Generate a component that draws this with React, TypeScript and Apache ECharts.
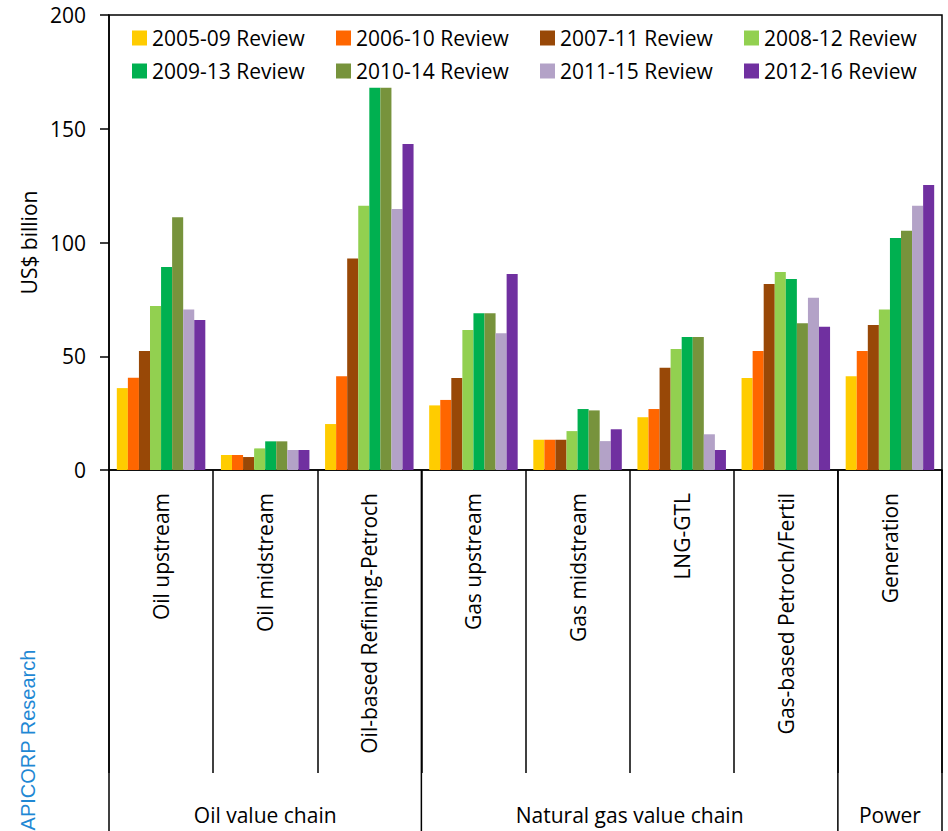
import React, { useEffect, useRef } from "react";
import * as echarts from "echarts";

const categories = [
  "Oil upstream",
  "Oil midstream",
  "Oil-based Refining-Petroch",
  "Gas upstream",
  "Gas midstream",
  "LNG-GTL",
  "Gas-based Petroch/Fertil",
  "Generation",
];

const seriesNames = [
  "2005-09 Review",
  "2006-10 Review",
  "2007-11 Review",
  "2008-12 Review",
  "2009-13 Review",
  "2010-14 Review",
  "2011-15 Review",
  "2012-16 Review",
];

const colors = ["#FFCC00", "#FF6600", "#984807", "#92D050", "#00B050", "#77933C", "#B3A2C7", "#7030A0"];

const review0509 = [36, 6.6, 20.2, 28.4, 13.3, 23.2, 40.4, 41.2];
const review0610 = [40.5, 6.6, 41.2, 30.8, 13.3, 26.8, 52.3, 52.3];
const review0711 = [52.3, 5.7, 93, 40.4, 13.3, 45, 81.8, 63.7];
const review0812 = [72.1, 9.5, 116.2, 61.5, 17.1, 53.2, 87, 70.5];
const review0913 = [89.2, 12.6, 168, 68.9, 26.8, 58.5, 84, 102];
const review1014 = [111.1, 12.6, 168, 68.9, 26.2, 58.5, 64.5, 105.2];
const review1115 = [70.5, 8.8, 114.7, 60.1, 12.7, 15.7, 75.7, 116.2];
const review1216 = [65.9, 8.8, 143.3, 86.2, 17.9, 8.8, 63, 125.3];

const seriesValues = [review0509, review0610, review0711, review0812, review0913, review1014, review1115, review1216];

const groups = [
  { name: "Oil value chain", start: 0, end: 3 },
  { name: "Natural gas value chain", start: 3, end: 7 },
  { name: "Power", start: 7, end: 8 },
];

const yTicks = { min: 0, max: 200, interval: 50 };

const FONT = "'Open Sans', sans-serif";

export default function App() {
  const ref = useRef<HTMLDivElement>(null);

  useEffect(() => {
    document.body.style.margin = "0";
    if (!ref.current) return;
    const chart = echarts.init(ref.current, null, { renderer: "svg" });
    const option: any = {
      animation: false,
      backgroundColor: "#ffffff",
      textStyle: { fontFamily: FONT },
      grid: {
        left: 109,
        top: 15,
        right: 6,
        bottom: 361,
        show: true,
        borderColor: "#000",
        borderWidth: 1.5,
        containLabel: false,
        outerBoundsMode: "none",
      },
      legend: {
        left: 132,
        top: 26,
        padding: 0,
        itemWidth: 15,
        itemHeight: 15,
        itemGap: 9,
        icon: "rect",
        data: seriesNames,
        textStyle: { fontFamily: FONT, fontSize: 21, color: "#000", width: 175, lineHeight: 24 },
      },
      xAxis: {
        type: "category",
        data: categories,
        axisLine: { lineStyle: { color: "#000", width: 1.5 } },
        axisTick: { show: true, length: 303, lineStyle: { color: "#000", width: 1.5 } },
        axisLabel: {
          rotate: 90,
          margin: 23,
          interval: 0,
          fontFamily: FONT,
          fontSize: 21,
          color: "#000",
        },
      },
      yAxis: {
        type: "value",
        min: yTicks.min,
        max: yTicks.max,
        interval: yTicks.interval,
        name: "US$ billion",
        nameLocation: "middle",
        nameGap: 70,
        nameTextStyle: { fontFamily: FONT, fontSize: 21, color: "#000" },
        axisLine: { show: true, lineStyle: { color: "#000", width: 1.5 } },
        axisTick: { show: true, inside: false, length: 9, lineStyle: { color: "#000", width: 1.5 } },
        splitLine: { show: false },
        axisLabel: { margin: 23, fontFamily: FONT, fontSize: 21, color: "#000" },
      },
      series: seriesNames.map((name, i) => ({
        name,
        type: "bar",
        data: seriesValues[i],
        barGap: "0%",
        barCategoryGap: "15%",
        itemStyle: { color: colors[i] },
      })),
    };
    chart.setOption(option);

    const xs = categories.map((c) => chart.convertToPixel({ xAxisIndex: 0 }, c) as number);
    const band = xs[1] - xs[0];
    const edge = (i: number) => xs[0] - band / 2 + i * band;
    const y0 = chart.convertToPixel({ yAxisIndex: 0 }, 0) as number;
    const h = chart.getHeight();
    const boundaries = Array.from(new Set(groups.flatMap((g) => [g.start, g.end])));
    const graphics: any[] = [];
    boundaries.forEach((b) => {
      graphics.push({
        type: "line",
        shape: { x1: edge(b), y1: y0, x2: edge(b), y2: h },
        style: { stroke: "#000", lineWidth: 1.5 },
      });
    });
    groups.forEach((g) => {
      graphics.push({
        type: "text",
        x: (edge(g.start) + edge(g.end)) / 2,
        y: 815,
        style: {
          text: g.name,
          font: `21px ${FONT}`,
          fill: "#000",
          textAlign: "center",
          textVerticalAlign: "middle",
        },
      });
    });
    graphics.push({
      type: "text",
      x: 28,
      y: 740,
      rotation: Math.PI / 2,
      style: {
        text: "APICORP Research",
        font: "20px 'Liberation Sans', Arial, sans-serif",
        fill: "#1F88D4",
        textAlign: "center",
        textVerticalAlign: "middle",
      },
    });
    chart.setOption({ graphic: graphics });

    return () => chart.dispose();
  }, []);

  return <div ref={ref} style={{ width: 948, height: 831 }} />;
}
